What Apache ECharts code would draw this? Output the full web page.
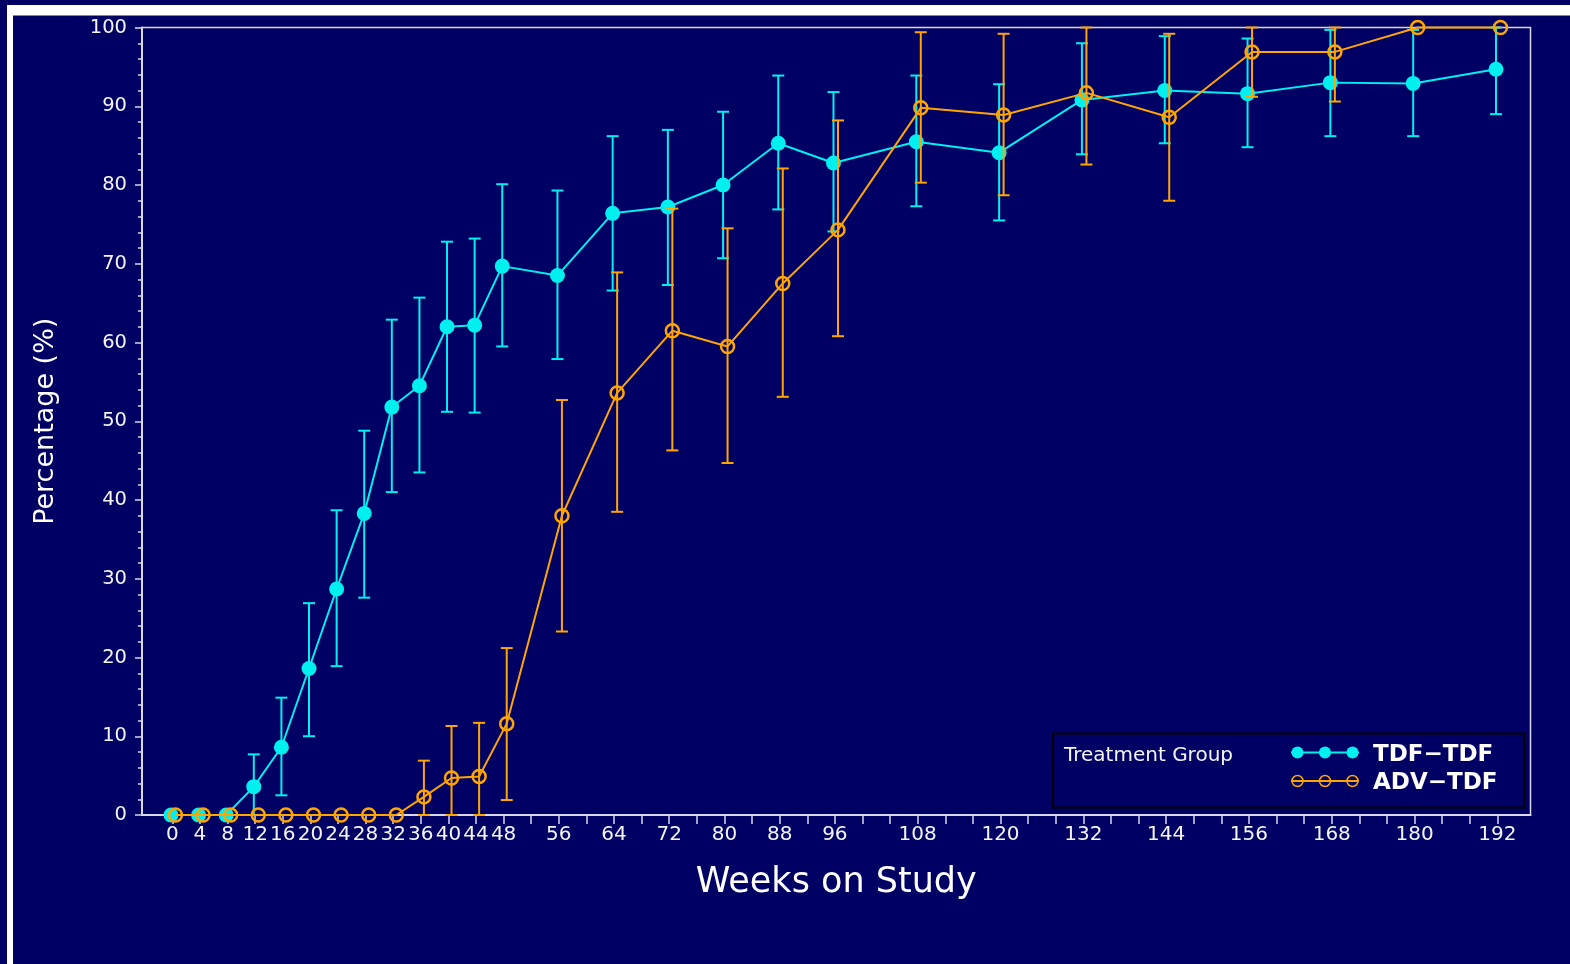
<!DOCTYPE html>
<html>
<head>
<meta charset="utf-8">
<title>Weeks on Study</title>
<script src="https://cdn.jsdelivr.net/npm/echarts@6/dist/echarts.min.js"></script>
<style>
  html, body { margin: 0; padding: 0; background: #000064; }
  #chart { width: 1570px; height: 964px; }
</style>
</head>
<body>
<div id="chart"></div>
<script>
// weeks on study
var weeks = [0, 4, 8, 12, 16, 20, 24, 28, 32, 36, 40, 44, 48, 56, 64, 72, 80, 88, 96, 108, 120, 132, 144, 156, 168, 180, 192];

// TDF-TDF : percentage with lower / upper limits
var tdfMean = [0, 0, 0, 3.6, 8.6, 18.6, 28.7, 38.3, 51.8, 54.5, 62.0, 62.2, 69.7, 68.5, 76.4, 77.2, 80.0, 85.3, 82.8, 85.5, 84.1, 90.8, 92.0, 91.6, 93.0, 92.9, 94.7];
var tdfLow  = [0, 0, 0, 0, 2.5, 10.0, 18.9, 27.6, 41.0, 43.5, 51.2, 51.1, 59.5, 57.9, 66.6, 67.3, 70.7, 76.9, 74.1, 77.3, 75.5, 83.9, 85.3, 84.8, 86.2, 86.2, 89.0];
var tdfHigh = [0, 0, 0, 7.7, 14.9, 26.9, 38.7, 48.8, 62.9, 65.7, 72.8, 73.2, 80.1, 79.3, 86.2, 87.0, 89.3, 93.9, 91.8, 93.9, 92.8, 98.0, 98.9, 98.6, 99.7, 99.7, 100];

// ADV-TDF
var advMean = [0, 0, 0, 0, 0, 0, 0, 0, 0, 2.3, 4.7, 4.9, 11.6, 38.0, 53.6, 61.5, 59.5, 67.5, 74.3, 89.8, 88.9, 91.7, 88.6, 96.9, 96.9, 100, 100];
var advLow  = [0, 0, 0, 0, 0, 0, 0, 0, 0, 0, 0, 0, 1.9, 23.3, 38.5, 46.3, 44.7, 53.1, 60.8, 80.3, 78.7, 82.6, 78.0, 91.2, 90.6, 100, 100];
var advHigh = [0, 0, 0, 0, 0, 0, 0, 0, 0, 6.9, 11.3, 11.7, 21.2, 52.7, 68.9, 77.0, 74.5, 82.1, 88.2, 99.4, 99.2, 100, 99.2, 100, 100, 100, 100];

// x axis ticks and labels
var xTicks = [0, 4, 8, 12, 16, 20, 24, 28, 32, 36, 40, 44, 48, 52, 56, 60, 64, 68, 72, 76, 80, 84, 88, 92, 96, 100,
  104, 108, 112, 116, 120, 124, 128, 132, 136, 140, 144, 148, 152, 156, 160, 164, 168, 172, 176, 180, 184, 188, 192];
var xLabels = [0, 4, 8, 12, 16, 20, 24, 28, 32, 36, 40, 44, 48, 56, 64, 72, 80, 88, 96, 108, 120, 132, 144, 156, 168, 180, 192];

var seriesNames = ['TDF\u2212TDF', 'ADV\u2212TDF'];

var CYAN = '#00f0f0';
var ORANGE = '#ffa500';
var AXIS = '#d8d8e6';
var FONT = 'DejaVu Sans';

var X_MIN = -4.4, X_MAX = 196.8;

function pairs(xs, ys) {
  return xs.map(function (x, i) { return [x, ys[i]]; });
}
function bars(xs, lo, hi) {
  var out = [];
  xs.forEach(function (x, i) {
    if (hi[i] - lo[i] > 0.01) out.push([x, lo[i], hi[i]]);
  });
  return out;
}

// error bars with caps
function errorBar(color) {
  return function (params, api) {
    var x = api.value(0);
    var lo = api.coord([x, api.value(1)]);
    var hi = api.coord([x, api.value(2)]);
    var w = 6;
    var st = { stroke: color, lineWidth: 2 };
    return {
      type: 'group',
      children: [
        { type: 'line', shape: { x1: lo[0], y1: lo[1], x2: hi[0], y2: hi[1] }, style: st },
        { type: 'line', shape: { x1: hi[0] - w, y1: hi[1], x2: hi[0] + w, y2: hi[1] }, style: st },
        { type: 'line', shape: { x1: lo[0] - w, y1: lo[1], x2: lo[0] + w, y2: lo[1] }, style: st }
      ]
    };
  };
}

var chart = echarts.init(document.getElementById('chart'));

var option = {
  backgroundColor: '#000064',
  animation: false,
  grid: {
    left: 142, right: 39.5, top: 27.5, bottom: 149,
    show: true, borderColor: AXIS, borderWidth: 1.5,
    backgroundColor: 'transparent'
  },
  xAxis: [{
    type: 'value',
    min: X_MIN, max: X_MAX,
    name: 'Weeks on Study',
    nameLocation: 'middle',
    nameGap: 50,
    nameTextStyle: { color: '#ffffff', fontSize: 35, fontFamily: FONT },
    axisLine: { show: true, onZero: false, lineStyle: { color: AXIS, width: 2 } },
    axisTick: { show: true, length: 9, customValues: xTicks, lineStyle: { color: AXIS, width: 1.5 } },
    axisLabel: { customValues: xLabels, color: '#f4f4f4', fontSize: 20, fontFamily: FONT, margin: 10 },
    splitLine: { show: false }
  }, {
    // TDF-TDF points sit a touch left of the tick
    type: 'value', show: false, min: X_MIN + 0.2, max: X_MAX + 0.2
  }, {
    // ADV-TDF points sit a touch right of the tick
    type: 'value', show: false, min: X_MIN - 0.45, max: X_MAX - 0.45
  }],
  yAxis: {
    type: 'value',
    min: 0, max: 100, interval: 10,
    name: 'Percentage (%)',
    nameLocation: 'middle',
    nameRotate: 90,
    nameGap: 83,
    nameTextStyle: { color: '#ffffff', fontSize: 27, fontFamily: FONT },
    axisLine: { show: true, onZero: false, lineStyle: { color: AXIS, width: 2 } },
    axisTick: { show: true, length: 7, lineStyle: { color: AXIS, width: 1.5 } },
    minorTick: { show: true, splitNumber: 5, length: 4, lineStyle: { color: AXIS, width: 1.5 } },
    axisLabel: { color: '#f4f4f4', fontSize: 19.5, fontFamily: FONT, margin: 15 },
    splitLine: { show: false }
  },
  series: [{
    name: seriesNames[0] + ' bars',
    type: 'custom',
    xAxisIndex: 1,
    renderItem: errorBar(CYAN),
    encode: { x: 0, y: [1, 2] },
    data: bars(weeks, tdfLow, tdfHigh),
    z: 2
  }, {
    name: seriesNames[0],
    type: 'line',
    xAxisIndex: 1,
    data: pairs(weeks, tdfMean),
    symbol: 'circle',
    symbolSize: 15,
    itemStyle: { color: CYAN },
    lineStyle: { color: CYAN, width: 2 },
    clip: false,
    z: 3
  }, {
    name: seriesNames[1] + ' bars',
    type: 'custom',
    xAxisIndex: 2,
    renderItem: errorBar(ORANGE),
    encode: { x: 0, y: [1, 2] },
    data: bars(weeks, advLow, advHigh),
    z: 4
  }, {
    name: seriesNames[1],
    type: 'line',
    xAxisIndex: 2,
    data: pairs(weeks, advMean),
    symbol: 'circle',
    symbolSize: 13,
    itemStyle: { color: 'rgba(0,0,0,0)', borderColor: ORANGE, borderWidth: 2.5 },
    lineStyle: { color: ORANGE, width: 2 },
    clip: false,
    z: 5
  }],
  graphic: [
    // white frame along top and left
    { type: 'rect', left: 7, top: 5, shape: { width: 1570, height: 10.5 }, style: { fill: '#ffffff' }, silent: true },
    { type: 'rect', left: 7, top: 5, shape: { width: 6, height: 964 }, style: { fill: '#ffffff' }, silent: true },
    // legend box
    { type: 'rect', left: 1052, top: 732.5, shape: { width: 471, height: 74 },
      style: { fill: '#000064', stroke: '#000000', lineWidth: 2 }, z: 10 },
    { type: 'text', left: 1064, top: 746, z: 11,
      style: { text: 'Treatment Group', fill: '#f4f4f4', font: '20px "DejaVu Sans"' } },
    { type: 'line', z: 11, shape: { x1: 1291, y1: 752.5, x2: 1359, y2: 752.5 }, style: { stroke: CYAN, lineWidth: 2 } },
    { type: 'circle', z: 12, shape: { cx: 1297.5, cy: 752.5, r: 6 }, style: { fill: CYAN } },
    { type: 'circle', z: 12, shape: { cx: 1325, cy: 752.5, r: 6 }, style: { fill: CYAN } },
    { type: 'circle', z: 12, shape: { cx: 1352.5, cy: 752.5, r: 6 }, style: { fill: CYAN } },
    { type: 'text', left: 1373, top: 744, z: 11,
      style: { text: seriesNames[0], fill: '#ffffff', font: 'bold 23px "DejaVu Sans"' } },
    { type: 'line', z: 11, shape: { x1: 1291, y1: 781, x2: 1359, y2: 781 }, style: { stroke: ORANGE, lineWidth: 2 } },
    { type: 'circle', z: 12, shape: { cx: 1297.5, cy: 781, r: 5.5 }, style: { fill: 'rgba(0,0,0,0)', stroke: ORANGE, lineWidth: 1.5 } },
    { type: 'circle', z: 12, shape: { cx: 1325, cy: 781, r: 5.5 }, style: { fill: 'rgba(0,0,0,0)', stroke: ORANGE, lineWidth: 1.5 } },
    { type: 'circle', z: 12, shape: { cx: 1352.5, cy: 781, r: 5.5 }, style: { fill: 'rgba(0,0,0,0)', stroke: ORANGE, lineWidth: 1.5 } },
    { type: 'text', left: 1373, top: 772, z: 11,
      style: { text: seriesNames[1], fill: '#ffffff', font: 'bold 23px "DejaVu Sans"' } }
  ]
};

chart.setOption(option);
</script>
</body>
</html>
